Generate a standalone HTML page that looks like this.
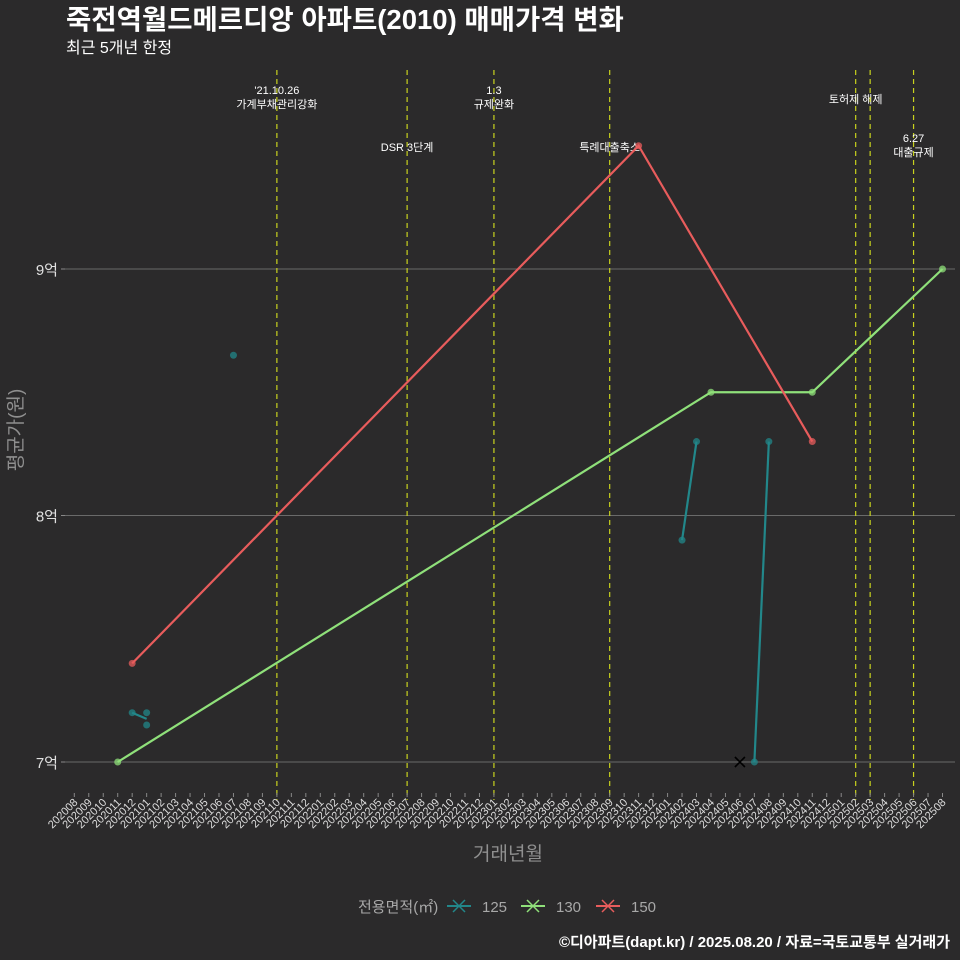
<!DOCTYPE html>
<html><head><meta charset="utf-8">
<style>
html,body{margin:0;padding:0;background:#2b2a2b;}
svg{display:block;font-family:"Liberation Sans","Noto Sans CJK KR",sans-serif;}
</style></head>
<body>
<svg id="chart" width="960" height="960" viewBox="0 0 960 960">
<rect x="0" y="0" width="960" height="960" fill="#2b2a2b"/>
<text x="66" y="29" fill="#ffffff" font-size="27.5" font-weight="bold">죽전역월드메르디앙 아파트(2010) 매매가격 변화</text>
<text x="66" y="53" fill="#ffffff" font-size="16">최근 5개년 한정</text>
<g id="grid"></g>
<g id="vlines"></g>
<g id="series"></g>
<g id="xaxis"></g>
<g id="yaxis"></g>
<text x="508" y="860" fill="#8f8f8f" font-size="19" text-anchor="middle">거래년월</text>
<text transform="translate(22,430) rotate(-90)" fill="#8f8f8f" font-size="19" text-anchor="middle">평균가(원)</text>
<g id="legend">
<text x="358" y="912" fill="#a8a8a8" font-size="15">전용면적(㎡)</text>
</g>
<text x="950" y="947" fill="#ffffff" font-size="15" font-weight="bold" text-anchor="end">©디아파트(dapt.kr) / 2025.08.20 / 자료=국토교통부 실거래가</text>
</svg>
<script>
const months = [];
for (let y=2020,m=8; !(y===2025&&m===9); ) { months.push(''+y+(m<10?'0':'')+m); m++; if(m>12){m=1;y++;} }
const yTicks = [7, 8, 9];
const yTickLabels = ['7억', '8억', '9억'];
// series data (억)
const s125Months = ['202012','202101','202101','202107','202402','202403','202407','202408'];
const s125Values = [7.2, 7.2, 7.15, 8.65, 7.9, 8.3, 7.0, 8.3];
const s125Segments = [['202012','202101'],['202402','202403'],['202407','202408']];
const s125Cancelled = ['202406'];
const s125CancelledValues = [7.0];
const s130Months = ['202011','202404','202411','202508'];
const s130Values = [7.0, 8.5, 8.5, 9.0];
const s150Months = ['202012','202311','202411'];
const s150Values = [7.4, 9.5, 8.3];
const eventMonths = ['202110','202207','202301','202309','202502','202503','202506'];
const eventLabels = [["'21.10.26","가계부채관리강화"],["DSR 3단계"],["1.3","규제완화"],["특례대출축소"],["토허제 해제"],[""],["6.27","대출규제"]];
const eventLabelY = [94,151,94,151,103,0,142];

const NS='http://www.w3.org/2000/svg';
function xs(m){ return 74.3 + months.indexOf(m)*14.47; }
function ys(v){ return 762 - (v-7)*246.5; }
function mk(tag, attrs, parent){ const e=document.createElementNS(NS,tag); for(const k in attrs) e.setAttribute(k,attrs[k]); parent.appendChild(e); return e; }
const G = id=>document.getElementById(id);

yTicks.forEach((t,i)=>{
  const l=mk('line',{x1:65,x2:955,y1:ys(t),y2:ys(t),stroke:'#6a6a6a','stroke-width':1},G('grid'));
  
  
  const tk=mk('line',{x1:61,x2:65,y1:ys(t),y2:ys(t),stroke:'#888'},G('yaxis'));
  
  
  const tx=mk('text',{x:58,y:ys(t)+6,fill:'#e0e0e0','font-size':15,'text-anchor':'end'},G('yaxis'));
  tx.textContent=yTickLabels[i];
  
  
});
eventMonths.forEach((m,i)=>{
  const l=mk('line',{x1:xs(m),x2:xs(m),y1:70,y2:800,stroke:'#c8d21e','stroke-width':1.2,'stroke-dasharray':'5,4'},G('vlines'));
  
  
  eventLabels[i].forEach((s,j)=>{
    if(!s) return;
    const t=mk('text',{x:xs(m),y:eventLabelY[i]+j*14,fill:'#ffffff','font-size':11,'text-anchor':'middle'},G('vlines'));
    t.textContent=s;
    
    
  });
});
months.forEach(m=>{
  const x=xs(m);
  const tk=mk('line',{x1:x,x2:x,y1:793,y2:797,stroke:'#888'},G('xaxis'));
  
  
  const t=mk('text',{x:0,y:0,fill:'#dddddd','font-size':11,'text-anchor':'end',transform:`translate(${x+4},${803}) rotate(-45)`},G('xaxis'));
  t.textContent=m;
  
  
});
function drawLine(ms, vs, color, name){
  const p=mk('polyline',{points:ms.map((m,i)=>xs(m)+','+ys(vs[i])).join(' '),fill:'none',stroke:color,'stroke-width':2.2},G('series'));
  
  
}
function drawPts(ms, vs, color, name){
  ms.forEach((m,i)=>{
    const c=mk('circle',{cx:xs(m),cy:ys(vs[i]),r:3.5,fill:color,'fill-opacity':0.75},G('series'));
    
    
  });
}
const c125='#22878a', c130='#8fe07a', c150='#e85c5c';
s125Segments.forEach(seg=>{
  const vals=seg.map(m=>{ const v=s125Values.filter((_,i)=>s125Months[i]===m); return v.reduce((a,b)=>a+b,0)/v.length; });
  drawLine(seg, vals, c125, 'line-125');
});
drawPts(s125Months, s125Values, c125, 'point-125');
s125Cancelled.forEach((m,i)=>{
  const x=xs(m), y=ys(s125CancelledValues[i]);
  const p=mk('path',{d:`M${x-5},${y-5}L${x+5},${y+5}M${x-5},${y+5}L${x+5},${y-5}`,stroke:'#000','stroke-width':1.6},G('series'));
  
  
});
drawLine(s130Months, s130Values, c130, 'line-130');
drawPts(s130Months, s130Values, c130, 'point-130');
drawLine(s150Months, s150Values, c150, 'line-150');
drawPts(s150Months, s150Values, c150, 'point-150');
[['125',c125,447],['130',c130,521],['150',c150,596]].forEach(([lab,col,x])=>{
  const g=mk('g',{},G('legend'));
  
  
  mk('line',{x1:x,x2:x+24,y1:906,y2:906,stroke:col,'stroke-width':2},g);
  mk('path',{d:`M${x+6},${900}L${x+18},${912}M${x+6},${912}L${x+18},${900}`,stroke:col,'stroke-width':1.5},g);
  const t=mk('text',{x:x+35,y:912,fill:'#a8a8a8','font-size':15},g);
  t.textContent=lab;
});
</script>
</body></html>
